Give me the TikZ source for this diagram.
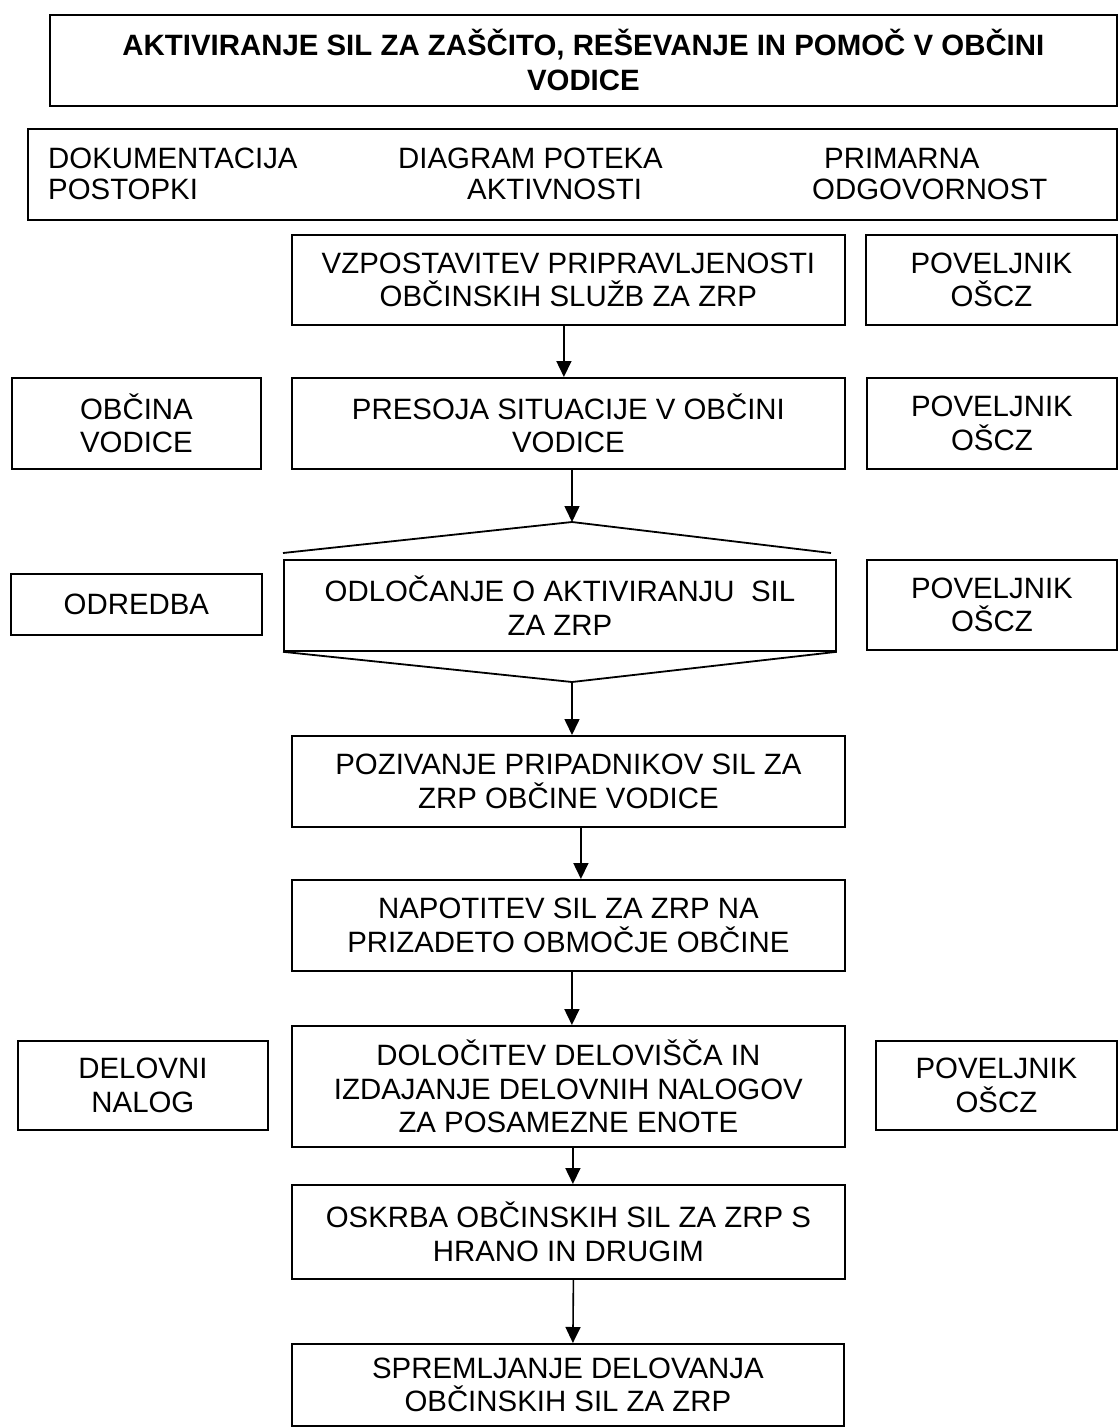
\documentclass[tikz,border=0pt]{standalone}
\usepackage{fontspec}
\setmainfont{Liberation Sans}
\usetikzlibrary{arrows.meta}
\begin{document}
\begin{tikzpicture}[x=1pt,y=-1pt,
  txt/.style={font=\fontsize{29.4}{33.6}\selectfont},
  box/.style={draw, line width=1.8pt, inner sep=0pt, align=center, txt, anchor=north west},
  lbl/.style={inner sep=0pt, anchor=base west, txt},
  edge/.style={line width=1.8pt},
  arr/.style={line width=1.6pt, -{Triangle[length=16pt,width=15pt]}}]
\useasboundingbox (0,0) rectangle (1119,1428);
% title and header
\node[box, minimum width=1067pt, minimum height=91pt, font=\fontsize{29.4}{35}\selectfont\bfseries] (title) at (49,14)
  {AKTIVIRANJE SIL ZA ZAŠČITO, REŠEVANJE IN POMOČ V OBČINI\\VODICE};
\node[box, minimum width=1089pt, minimum height=91pt] (head) at (27,128) {};
\node[lbl] (h1) at (48,168) {DOKUMENTACIJA};
\node[lbl] (h2) at (48,199) {POSTOPKI};
\node[lbl] (h3) at (398,168) {DIAGRAM POTEKA};
\node[lbl] (h4) at (467,199) {AKTIVNOSTI};
\node[lbl] (h5) at (824,168) {PRIMARNA};
\node[lbl] (h6) at (812,199) {ODGOVORNOST};
% main column
\node[box, minimum width=553pt, minimum height=90pt] (b1) at (291,234)
  {VZPOSTAVITEV PRIPRAVLJENOSTI\\OBČINSKIH SLUŽB ZA ZRP};
\node[box, minimum width=251pt, minimum height=90pt] (r1) at (865,234) {POVELJNIK\\OŠCZ};
\node[box, minimum width=553pt, minimum height=91pt] (b2) at (291,377)
  {PRESOJA SITUACIJE V OBČINI\\VODICE};
\node[box, minimum width=249pt, minimum height=91pt] (l2) at (11,377) {OBČINA\\VODICE};
\node[box, minimum width=250pt, minimum height=91pt] (r2) at (866,377) {POVELJNIK\\OŠCZ};
% decision
\node[box, minimum width=552pt, minimum height=91pt] (d) at (283,559)
  {ODLOČANJE O AKTIVIRANJU\ \ SIL\\ZA ZRP};
\coordinate (dtop) at (572,522);
\coordinate (dtl) at (283,553);
\coordinate (dtr) at (831,553);
\coordinate (dbot) at (572,682);
\draw[edge] (dtl) -- (dtop) -- (dtr);
\draw[edge] (d.south west) -- (dbot) -- (d.south east);
\node[box, minimum width=251pt, minimum height=61pt] (l3) at (10,573) {ODREDBA};
\node[box, minimum width=250pt, minimum height=90pt] (r3) at (866,559) {POVELJNIK\\OŠCZ};
\node[box, minimum width=553pt, minimum height=91pt] (b4) at (291,735)
  {POZIVANJE PRIPADNIKOV SIL ZA\\ZRP OBČINE VODICE};
\node[box, minimum width=553pt, minimum height=91pt] (b5) at (291,879)
  {NAPOTITEV SIL ZA ZRP NA\\PRIZADETO OBMOČJE OBČINE};
\node[box, minimum width=553pt, minimum height=121pt] (b6) at (291,1025)
  {DOLOČITEV DELOVIŠČA IN\\IZDAJANJE DELOVNIH NALOGOV\\ZA POSAMEZNE ENOTE};
\node[box, minimum width=250pt, minimum height=89pt] (l6) at (17,1040) {DELOVNI\\NALOG};
\node[box, minimum width=241pt, minimum height=89pt] (r6) at (875,1040) {POVELJNIK\\OŠCZ};
\node[box, minimum width=553pt, minimum height=94pt] (b7) at (291,1184)
  {OSKRBA OBČINSKIH SIL ZA ZRP S\\HRANO IN DRUGIM};
\node[box, minimum width=552pt, minimum height=82pt] (b8) at (291,1343)
  {SPREMLJANJE DELOVANJA\\OBČINSKIH SIL ZA ZRP};
% arrows
\draw[arr] ([xshift=-4.5pt]b1.south) -- ([xshift=-4.5pt]b2.north);
\draw[arr] (b2.south -| dtop) -- (dtop);
\draw[arr] (dbot) -- (b4.north -| dbot);
\draw[arr] ([xshift=12.5pt]b4.south) -- ([xshift=12.5pt]b5.north);
\draw[arr] ([xshift=3.5pt]b5.south) -- ([xshift=3.5pt]b6.north);
\draw[arr] ([xshift=4.5pt]b6.south) -- ([xshift=4.5pt]b7.north);
\draw[arr] ([xshift=5pt]b7.south) -- ([xshift=5pt]b8.north);
\end{tikzpicture}
\end{document}
